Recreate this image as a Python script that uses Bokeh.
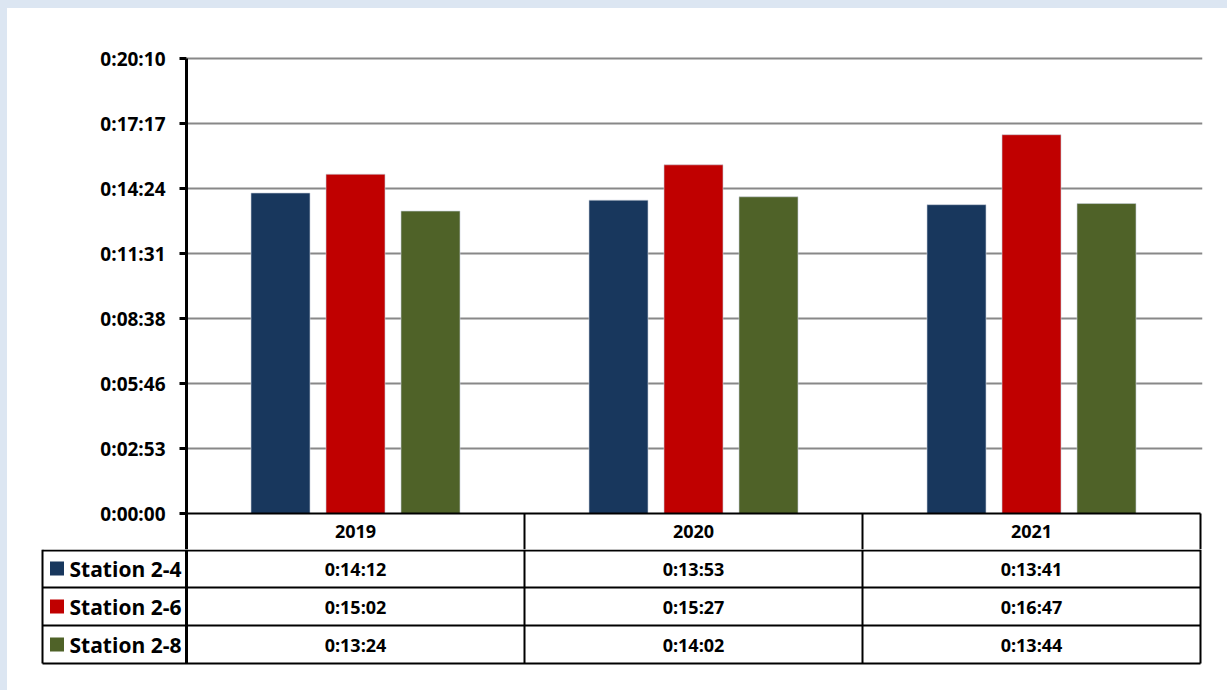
from bokeh.plotting import figure
from bokeh.layouts import column
from bokeh.models import Range1d, FixedTicker, ColumnDataSource
from bokeh.core.properties import value
from bokeh.embed import file_html
from bokeh.resources import INLINE

# Mean times per station and year (h:mm:ss)
years = ["2019", "2020", "2021"]
stations = ["Station 2-4", "Station 2-6", "Station 2-8"]
station_24 = ["0:14:12", "0:13:53", "0:13:41"]
station_26 = ["0:15:02", "0:15:27", "0:16:47"]
station_28 = ["0:13:24", "0:14:02", "0:13:44"]
colors = ["#18375d", "#c00000", "#4f6228"]

# Axis ticks (seconds) and their labels
tick_seconds = [0, 172.8, 345.6, 518.4, 691.2, 864.0, 1036.8, 1209.6]
tick_labels = ["0:00:00", "0:02:53", "0:05:46", "0:08:38", "0:11:31",
               "0:14:24", "0:17:17", "0:20:10"]

FONT = "Open Sans"


def to_seconds(t):
    h, m, s = (int(x) for x in t.split(":"))
    return h * 3600 + m * 60 + s


series = [station_24, station_26, station_28]

COL_PX = 338            # width of one year column
PX_PER_SEC = 455 / 1209.6
HEADER_PX = 36          # header row with the years
ROW_PX = 38             # one station row
HEAD = HEADER_PX / PX_PER_SEC

# ---------- bar chart with the year header row ----------
p1 = figure(width=1220, height=541, output_backend="svg", toolbar_location=None,
            x_range=Range1d(0, 3 + 2 / COL_PX),
            y_range=Range1d(-HEAD, 1209.6 + 8 / PX_PER_SEC),
            min_border_left=179, min_border_right=25, min_border_top=42,
            min_border_bottom=0, x_axis_location=None,
            background_fill_color="white", border_fill_color="white",
            outline_line_color=None)
p1.margin = 0
p1.frame_align = False

offsets = [-75 / COL_PX, 0.0, 75 / COL_PX]
bar_w = 59 / COL_PX
for vals, off, col in zip(series, offsets, colors):
    src = ColumnDataSource(dict(x=[i + 0.5 + off for i in range(len(years))],
                                top=[to_seconds(v) for v in vals]))
    p1.vbar(x="x", top="top", bottom=0, width=bar_w, source=src,
            fill_color=col, line_color="#c8d0da", line_width=1, line_alpha=0.6)

yax = p1.yaxis[0]
yax.ticker = FixedTicker(ticks=tick_seconds)
yax.major_label_overrides = {t: l for t, l in zip(tick_seconds, tick_labels)}
yax.bounds = (-HEAD, 1209.6)
yax.axis_line_width = 3
yax.axis_line_color = "black"
yax.major_tick_line_width = 3
yax.major_tick_line_color = "black"
yax.major_tick_out = 7
yax.major_tick_in = 0
yax.minor_tick_line_color = None
yax.major_label_text_font = FONT
yax.major_label_text_font_style = "bold"
yax.major_label_text_font_size = "19px"
yax.major_label_text_color = "black"
yax.major_label_standoff = 14

p1.xgrid.visible = False
p1.ygrid.ticker = FixedTicker(ticks=tick_seconds[1:])
p1.ygrid.grid_line_color = "#888888"
p1.ygrid.grid_line_width = 2

# category axis line and header cell borders
p1.segment(x0=[0], y0=[0], x1=[3], y1=[0], line_color="black", line_width=2)
p1.segment(x0=[1, 2, 3], y0=[0] * 3, x1=[1, 2, 3], y1=[-HEAD] * 3,
           line_color="black", line_width=2)
p1.text(x=[i + 0.5 for i in range(len(years))], y=[-HEAD / 2] * len(years),
        text=years, text_font=value(FONT), text_font_style="bold",
        text_font_size="18px", text_align="center", text_baseline="middle",
        text_color="black")

# ---------- station rows of the data table ----------
LEG_W = 144 / COL_PX
p2 = figure(width=1220, height=141, output_backend="svg", toolbar_location=None,
            x_range=Range1d(-LEG_W - 2 / COL_PX, 3 + 2 / COL_PX),
            y_range=Range1d(-116 / ROW_PX, 0),
            min_border_left=33, min_border_right=25, min_border_top=0,
            min_border_bottom=25, x_axis_location=None, y_axis_location=None,
            background_fill_color="white", border_fill_color="white",
            outline_line_color=None)
p2.margin = 0
p2.frame_align = False
p2.grid.visible = False

n_rows = len(stations)
hy = [-1 / ROW_PX] + [-(i + 1) for i in range(n_rows)]
p2.segment(x0=[-LEG_W] * len(hy), y0=hy, x1=[3] * len(hy), y1=hy,
           line_color="black", line_width=2)
vx = [-LEG_W, 0, 1, 2, 3]
p2.segment(x0=vx, y0=[0] * 5, x1=vx, y1=[-n_rows] * 5, line_color="black",
           line_width=[2, 3, 2, 2, 2])

for r, (vals, col, name) in enumerate(zip(series, colors, stations)):
    yc = -r - 0.5
    p2.rect(x=[-LEG_W + 14.5 / COL_PX], y=[yc], width=14, height=14,
            width_units="screen", height_units="screen",
            fill_color=col, line_color=None)
    p2.text(x=[-LEG_W + 27 / COL_PX], y=[yc], text=[name],
            text_font=value(FONT), text_font_style="bold", text_font_size="21px",
            text_align="left", text_baseline="middle", text_color="black")
    p2.text(x=[i + 0.5 for i in range(len(vals))], y=[yc] * len(vals), text=vals,
            text_font=value(FONT), text_font_style="bold", text_font_size="18px",
            text_align="center", text_baseline="middle", text_color="black")

# light blue band along the top and left edges of the white panel
layout = column(p1, p2, spacing=0,
                styles={"background-color": "white",
                        "border-top": "8px solid #dce6f2",
                        "border-left": "7px solid #dce6f2"})

open("out.html", "w").write(file_html(layout, INLINE))
